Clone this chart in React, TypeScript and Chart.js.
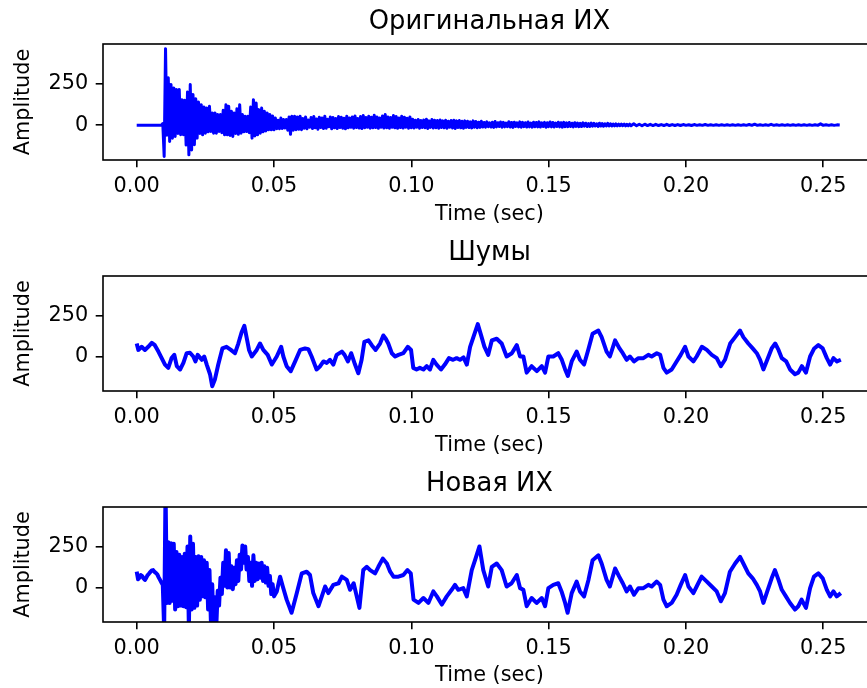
import React, { useEffect, useRef } from 'react';
import { Chart, registerables } from 'chart.js';

Chart.register(...registerables);

// ---------- text / ticks ----------
const TITLES = ['Оригинальная ИХ', 'Шумы', 'Новая ИХ'];
const X_LABEL = 'Time (sec)';
const Y_LABEL = 'Amplitude';
const X_TICKS = [0, 0.05, 0.1, 0.15, 0.2, 0.25];
const X_TICK_LABELS = ['0.00', '0.05', '0.10', '0.15', '0.20', '0.25'];
const Y_TICKS = [0, 250];
const Y_TICK_LABELS = ['0', '250'];
const X_MIN = -0.01227;
const X_MAX = 0.2692;
const Y_MIN = -210;
const Y_MAX = 490;

// ---------- original impulse response (uniform sampling in three parts) ----------
const ORIG_EARLY_START = 0;
const ORIG_EARLY_STEP = 0.0005;
const ORIG_EARLY = [
  0, 0, 0, 0, 0, 0, 0, 0, 0, 0, 0, 0, 0, 0, 0, 0, 0, 0, 0,
  10,
  -189, 462, -60, 286, -98, 245, -78, 225, -68, 215,
  -50, 215, -58, 154, -58, 150, -120, 200, -179, 245,
  -150, 185, -118, 160, -78, 140, -50, 124, -58, 110,
  -48, 104, -40, 114, -38, 74, -48, 74, -48, 64,
  -38, 64, -45, 90, -58, 124, -58, 114, -62, 84,
  -68, 74, -50, 100, -55, 124, -48, 64, -40, 54,
  -38, 54, -45, 110, -78, 154, -65, 134, -58, 94,
  -48, 104, -40, 84, -35, 74, -28, 64, -28, 55,
  -28, 43, -21, 30, -21, 43, -20, 34, -17, 34,
  -30, 50, -55, 54, -30, 54, -27, 50, -25, 54, -27,
];
const ORIG_MID_START = 0.0605;
const ORIG_MID_STEP = 0.0005;
const ORIG_MID = [
  40, -18, 50, -22, 32, -12, 46, -20, 52, -16, 38, -24, 48, -14, 44, -20,
  54, -18, 36, -10, 50, -22, 46, -16, 40, -20, 52, -14, 48, -18, 42, -22,
  54, -16, 44, -12, 50, -18, 56, -14, 40, -17, 52, -20, 58, -15, 46, -12,
  54, -18, 48, -16, 60, -14, 50, -19, 44, -12, 56, -17, 64, -15, 50, -18,
  46, -13, 58, -16, 52, -19, 44, -14, 54, -17, 48, -12, 42, -18, 50, -15,
  36, -17, 30, -12, 34, -18, 28, -14, 32, -16, 36, -20, 26, -13, 34, -17,
  30, -15, 28, -19, 32, -14, 26, -16, 30, -18, 24, -12, 28, -17, 30, -20,
  26, -14, 28, -16, 24, -18, 26, -13,
  24, -14, 20, -16, 26, -12, 22, -15, 18, -13, 24, -11,
  16, -12, 20, -9, 14, -11, 18, -13, 22, -10, 15, -8, 19, -12, 17, -10, 13, -9, 21, -11,
  16, -13, 18, -8, 14, -10, 20, -12, 17, -9, 15, -11, 19, -10, 13, -12, 18, -9, 16, -10,
  20, -11, 14, -8, 17, -12, 15, -9, 19, -10, 16, -11, 13, -8, 18, -10, 15, -12, 17, -9,
  14, -9, 16, -8, 12, -10, 15, -7, 13, -9, 11, -8, 14, -6, 12, -8, 10, -7, 13, -6,
  11, -5, 9, -7, 12, -5, 10, -6, 8, -5, 11, -4, 9, -5, 7, -4, 8, -4, 6, -3, 7, -3, 6, -4, 5, -3, 6, -3,
];
const ORIG_LATE_START = 0.181;
const ORIG_LATE_STEP = 0.001;
const ORIG_LATE = [
  8, -3, 6, -3, 6, -2, 5, -2, 5, -2, 4, -2, 5, -2, 4, -2, 4, -2, 4, -1,
  3, -2, 4, -1, 3, -1, 4, -1, 3, -1, 3, -1, 3, -1, 3, -1, 3, -1, 3, -1,
  3, -1, 4, -1, 6, -1, 3, -1, 3, -1, 5, -1, 3, -1, 3, -1, 3, -1, 3, -1,
  3, -1, 3, -1, 3, -1, 3, -1, 8, -1, 3, -1, 3, -1, 2, 1,
];

// ---------- noise (time, value) ----------
const NOISE_T = [
  0.0000, 0.0006, 0.0018, 0.0030, 0.0042, 0.0055, 0.0066, 0.0079, 0.0091, 0.0103,
  0.0115, 0.0127, 0.0137, 0.0146, 0.0158, 0.0170, 0.0182, 0.0194, 0.0206, 0.0214,
  0.0222, 0.0237, 0.0246, 0.0255, 0.0267, 0.0275, 0.0285, 0.0297, 0.0312, 0.0327,
  0.0343, 0.0358, 0.0370, 0.0382, 0.0392, 0.0400, 0.0409, 0.0419, 0.0437, 0.0449,
  0.0461, 0.0477, 0.0492, 0.0510, 0.0526, 0.0534, 0.0546, 0.0561, 0.0577, 0.0595,
  0.0613, 0.0625, 0.0637, 0.0655, 0.0668, 0.0680, 0.0692, 0.0704, 0.0716, 0.0728,
  0.0747, 0.0757, 0.0769, 0.0781, 0.0795, 0.0807, 0.0819, 0.0829, 0.0844, 0.0856,
  0.0870, 0.0886, 0.0898, 0.0907, 0.0916, 0.0929, 0.0941, 0.0953, 0.0971, 0.0987,
  0.0999, 0.1007, 0.1019, 0.1031, 0.1044, 0.1056, 0.1068, 0.1080, 0.1092, 0.1108,
  0.1122, 0.1137, 0.1152, 0.1165, 0.1177, 0.1190, 0.1202, 0.1214, 0.1226, 0.1242,
  0.1256, 0.1266, 0.1280, 0.1293, 0.1311, 0.1329, 0.1347, 0.1366, 0.1384, 0.1396,
  0.1408, 0.1420, 0.1438, 0.1457, 0.1475, 0.1487, 0.1499, 0.1517, 0.1535, 0.1548,
  0.1560, 0.1570, 0.1584, 0.1602, 0.1614, 0.1629, 0.1644, 0.1660, 0.1681, 0.1693,
  0.1711, 0.1723, 0.1742, 0.1758, 0.1770, 0.1784, 0.1796, 0.1811, 0.1827, 0.1845,
  0.1863, 0.1875, 0.1894, 0.1906, 0.1918, 0.1930, 0.1948, 0.1966, 0.1981, 0.1997,
  0.2009, 0.2027, 0.2039, 0.2058, 0.2076, 0.2094, 0.2112, 0.2127, 0.2142, 0.2161,
  0.2179, 0.2197, 0.2209, 0.2227, 0.2243, 0.2258, 0.2270, 0.2282, 0.2296, 0.2312,
  0.2325, 0.2337, 0.2349, 0.2365, 0.2379, 0.2397, 0.2409, 0.2422, 0.2437, 0.2452,
  0.2467, 0.2482, 0.2498, 0.2513, 0.2525, 0.2537, 0.2550, 0.2564,
];
const NOISE_V = [
  79, 40, 59, 40, 59, 83, 69, 30, -10, -49,
  -69, -10, 10, -59, -79, -39, 20, 23, 0, -30,
  10, -20, 0, -49, -108, -181, -138, -49, 49, 59,
  40, 20, 79, 148, 187, 118, 40, 0, 40, 79,
  40, 10, -49, 0, 59, 0, -59, -89, -30, 40,
  49, 45, 0, -79, -59, -30, -39, -20, -49, 10,
  30, 10, -30, 20, -49, -102, -20, 89, 98, 69,
  40, 79, 128, 108, 79, 20, 0, 10, 20, 59,
  40, -69, -79, -69, -79, -59, -79, -20, -49, -79,
  -49, -10, -20, -10, -20, -5, -49, 59, 118, 197,
  118, 60, 10, 98, 108, 79, 0, 20, 69, 0,
  0, -98, -59, -89, -59, -98, 0, 0, 20, -20,
  -79, -118, -30, 30, -20, -49, 40, 138, 158, 118,
  30, 0, 98, 49, 20, -20, 0, -30, -10, -10,
  10, 0, 20, 10, -69, -98, -79, -30, 10, 59,
  0, -30, 0, 59, 40, 10, -10, -59, -20, 79,
  118, 158, 118, 79, 49, 20, -20, -79, -20, 49,
  79, 40, -10, -30, -79, -108, -98, -59, -98, 0,
  49, 69, 49, -10, -49, -10, -30, -20,
];

// ---------- new impulse response ----------
const NEW_EARLY_START = 0;
const NEW_EARLY_STEP = 0.0005;
const NEW_EARLY = [
  96, 50, 60, 76, 70, 55, 46, 60, 76, 85, 95, 104, 106, 95, 88, 80, 62, 46, 30, 16,
  -260, 600, -94, 276, -94, 270, -80, 266, -134, 216,
  -114, 200, -110, 186, -114, 206, -120, 250, -250, 310,
  -134, 266, -124, 186, -110, 190, -74, 186, -54, 166,
  -60, 150, -134, 106, -200, 20, -260, -60, -230, -20,
  -110, 60, -40, 150, 10, 226, 0, 210, 0, 130,
  -10, 120, 20, 166, 40, 200, 110, 256, 150, 250,
  110, 186, 40, 150, 10, 196, 40, 150, 50, 146,
  60, 150, 40, 130, 30, 120, 10, 70, -40, 20, -54,
];
const NEW_LATE_T = [
  0.0510, 0.0522, 0.0532, 0.0546, 0.0564, 0.0583, 0.0601, 0.0619, 0.0631, 0.0643,
  0.0662, 0.0674, 0.0686, 0.0698, 0.0716, 0.0735, 0.0747, 0.0765, 0.0777, 0.0790,
  0.0804, 0.0811, 0.0825, 0.0838, 0.0850, 0.0868, 0.0880, 0.0896, 0.0911, 0.0923,
  0.0935, 0.0953, 0.0971, 0.0986, 0.0998, 0.1008, 0.1026, 0.1044, 0.1062, 0.1080,
  0.1093, 0.1111, 0.1129, 0.1147, 0.1159, 0.1171, 0.1189, 0.1202, 0.1220, 0.1232,
  0.1248, 0.1262, 0.1280, 0.1293, 0.1311, 0.1329, 0.1347, 0.1365, 0.1384, 0.1396,
  0.1408, 0.1420, 0.1438, 0.1456, 0.1475, 0.1487, 0.1499, 0.1517, 0.1535, 0.1547,
  0.1560, 0.1569, 0.1584, 0.1602, 0.1614, 0.1629, 0.1645, 0.1660, 0.1681, 0.1693,
  0.1711, 0.1723, 0.1742, 0.1757, 0.1770, 0.1784, 0.1796, 0.1811, 0.1827, 0.1845,
  0.1863, 0.1875, 0.1893, 0.1906, 0.1918, 0.1930, 0.1948, 0.1966, 0.1981, 0.1997,
  0.2009, 0.2027, 0.2039, 0.2057, 0.2076, 0.2094, 0.2112, 0.2127, 0.2142, 0.2160,
  0.2179, 0.2197, 0.2209, 0.2227, 0.2243, 0.2258, 0.2270, 0.2282, 0.2296, 0.2312,
  0.2324, 0.2337, 0.2349, 0.2364, 0.2379, 0.2397, 0.2409, 0.2421, 0.2437, 0.2452,
  0.2466, 0.2482, 0.2498, 0.2513, 0.2525, 0.2537, 0.2549, 0.2564,
];
const NEW_LATE_V = [
  -24, 66, 6, -74, -154, -34, 86, 96, 76, -34,
  -114, -54, 6, -34, 16, 26, 66, 46, -14, 26,
  -74, -124, 106, 126, 106, 86, 126, 176, 146, 96,
  66, 66, 76, 106, 86, -74, -94, -64, -94, -24,
  -54, -104, -54, -14, 16, -14, -4, -54, 106, 166,
  250, 106, 6, 126, 146, 106, 6, 26, 76, -4,
  -14, -114, -64, -94, -64, -114, -4, 16, 26, -24,
  -94, -154, -34, 36, -24, -54, 46, 166, 196, 146,
  46, 6, 116, 66, 26, -24, 6, -44, -4, -4,
  16, 6, 36, 16, -74, -114, -94, -44, 16, 76,
  6, -34, 6, 66, 36, 6, -24, -84, -34, 96,
  146, 186, 146, 86, 56, 16, -24, -94, -24, 56,
  106, 46, -14, -54, -94, -134, -114, -74, -124, -4,
  66, 86, 56, -14, -54, -24, -54, -34,
];

// ---------- layout ----------
const PAGE_W = 867;
const PAGE_H = 688;
const CANVAS_W = 880;
const PLOT_LEFT = 103;
const PLOT_RIGHT = 876;
const LINE_COLOR = '#0000ff';
const FONT_FAMILY = "'DejaVu Sans', sans-serif";
const LABEL_SIZE = 20.8;
const TITLE_SIZE = 25.8;
const LINE_WIDTHS = [3, 4, 4];
const PANELS = [
  { top: 0, height: 230, plotTop: 44, plotBottom: 160, titleY: 22.5, xTitleY: 215 },
  { top: 230, height: 230, plotTop: 46, plotBottom: 161, titleY: 23, xTitleY: 216 },
  { top: 460, height: 228, plotTop: 47, plotBottom: 162, titleY: 24, xTitleY: 215.5 },
];

type Pt = { x: number; y: number };
const gridPoints = (start: number, step: number, vals: number[]): Pt[] =>
  vals.map((v, i) => ({ x: +(start + i * step).toFixed(6), y: v }));
const pairPoints = (ts: number[], vs: number[]): Pt[] => ts.map((t, i) => ({ x: t, y: vs[i] }));

const SERIES: Pt[][] = [
  [
    ...gridPoints(ORIG_EARLY_START, ORIG_EARLY_STEP, ORIG_EARLY),
    ...gridPoints(ORIG_MID_START, ORIG_MID_STEP, ORIG_MID),
    ...gridPoints(ORIG_LATE_START, ORIG_LATE_STEP, ORIG_LATE),
  ],
  pairPoints(NOISE_T, NOISE_V),
  [...gridPoints(NEW_EARLY_START, NEW_EARLY_STEP, NEW_EARLY), ...pairPoints(NEW_LATE_T, NEW_LATE_V)],
];

const panelDecor = {
  id: 'panelDecor',
  afterDatasetsDraw(chart: any, _args: any, opts: any) {
    const { ctx, chartArea } = chart;
    const { left, right, top, bottom } = chartArea;
    ctx.save();
    ctx.strokeStyle = '#000000';
    ctx.lineWidth = 1.6;
    ctx.strokeRect(left, top, right - left, bottom - top);
    ctx.fillStyle = '#000000';
    ctx.font = `${TITLE_SIZE}px ${FONT_FAMILY}`;
    ctx.textAlign = 'center';
    ctx.textBaseline = 'middle';
    ctx.fillText(opts.text, (left + right) / 2, opts.y);
    ctx.restore();
  },
};

function makeConfig(idx: number): any {
  const p = PANELS[idx];
  const labelFont = { family: FONT_FAMILY, size: LABEL_SIZE };
  const gridOpts = {
    display: true,
    drawOnChartArea: false,
    drawTicks: true,
    tickLength: 7.3,
    tickWidth: 1.6,
    tickColor: '#000000',
    lineWidth: 1.6,
    color: '#000000',
  };
  return {
    type: 'line',
    data: {
      datasets: [
        {
          data: SERIES[idx],
          borderColor: LINE_COLOR,
          backgroundColor: LINE_COLOR,
          borderWidth: LINE_WIDTHS[idx],
          pointRadius: 0,
          pointHoverRadius: 0,
          tension: 0,
          fill: false,
          borderJoinStyle: 'round',
          borderCapStyle: 'butt',
          clip: 0,
        },
      ],
    },
    options: {
      responsive: false,
      animation: false,
      devicePixelRatio: 1,
      events: [],
      layout: { padding: { left: 0, right: CANVAS_W - PLOT_RIGHT, top: p.plotTop, bottom: 0 } },
      plugins: {
        legend: { display: false },
        tooltip: { enabled: false },
        title: { display: false },
        panelDecor: { text: TITLES[idx], y: p.titleY },
      },
      scales: {
        x: {
          type: 'linear',
          min: X_MIN,
          max: X_MAX,
          afterBuildTicks: (s: any) => {
            s.ticks = X_TICKS.map((value) => ({ value }));
          },
          afterFit: (s: any) => {
            s.height = p.height - p.plotBottom;
          },
          ticks: {
            autoSkip: false,
            maxRotation: 0,
            minRotation: 0,
            padding: 6.5,
            color: '#000000',
            font: labelFont,
            callback: (_v: any, i: number) => X_TICK_LABELS[i],
          },
          grid: gridOpts,
          border: { display: false },
          title: {
            display: true,
            text: X_LABEL,
            color: '#000000',
            font: labelFont,
            padding: { top: 0, bottom: p.height - p.xTitleY - (LABEL_SIZE * 1.2) / 2 },
          },
        },
        y: {
          type: 'linear',
          min: Y_MIN,
          max: Y_MAX,
          afterBuildTicks: (s: any) => {
            s.ticks = Y_TICKS.map((value) => ({ value }));
          },
          afterFit: (s: any) => {
            s.width = PLOT_LEFT;
          },
          ticks: {
            autoSkip: false,
            padding: 7.4,
            color: '#000000',
            font: labelFont,
            callback: (_v: any, i: number) => Y_TICK_LABELS[i],
          },
          grid: gridOpts,
          border: { display: false },
          title: {
            display: true,
            text: Y_LABEL,
            color: '#000000',
            font: labelFont,
            padding: { top: 11.5, bottom: 0 },
          },
        },
      },
    },
    plugins: [panelDecor],
  };
}

function Panel({ idx }: { idx: number }) {
  const ref = useRef<HTMLCanvasElement | null>(null);
  useEffect(() => {
    if (!ref.current) return;
    const chart = new Chart(ref.current, makeConfig(idx));
    return () => chart.destroy();
  }, [idx]);
  const p = PANELS[idx];
  return (
    <canvas
      ref={ref}
      width={CANVAS_W}
      height={p.height}
      style={{ position: 'absolute', left: 0, top: p.top, width: CANVAS_W, height: p.height }}
    />
  );
}

export default function App() {
  return (
    <div
      style={{
        position: 'absolute',
        left: 0,
        top: 0,
        width: PAGE_W,
        height: PAGE_H,
        overflow: 'hidden',
        background: '#ffffff',
      }}
    >
      {PANELS.map((_, i) => (
        <Panel key={i} idx={i} />
      ))}
    </div>
  );
}
